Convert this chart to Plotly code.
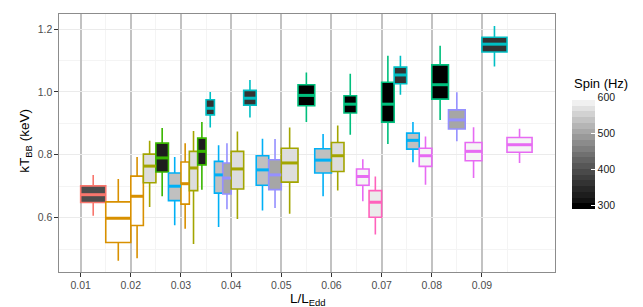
import plotly.graph_objects as go

# ---------------- data ----------------
source_names = ["S1", "S2", "S3", "S4", "S5", "S6", "S7", "S8", "S9", "S10"]
source_colors = ["#F8766D", "#D89000", "#A3A500", "#39B600", "#00BF7D",
                 "#00BFC4", "#00B0F6", "#9590FF", "#E76BF3", "#FF62BC"]
source_spin = [395, 610, 572, 326, 290, 358, 539, 508, 599, 588]

# each box: L/LEdd bin (left edge), source index, whisker-low, q1, median, q3, whisker-high
box_bin = [0.01, 0.01,
           0.02, 0.02, 0.02, 0.02,
           0.03, 0.03, 0.03, 0.03, 0.03, 0.03,
           0.04, 0.04, 0.04, 0.04,
           0.05, 0.05, 0.05,
           0.06, 0.06, 0.06, 0.06,
           0.07, 0.07, 0.07, 0.07,
           0.08, 0.08, 0.08,
           0.09, 0.09]
box_src = [0, 1,
           1, 2, 3, 6,
           1, 2, 3, 5, 6, 7,
           2, 5, 6, 7,
           2, 4, 6,
           2, 4, 8, 9,
           4, 5, 6, 8,
           4, 7, 8,
           5, 8]
box_lo = [0.606, 0.463, 0.471, 0.634, 0.668, 0.576, 0.565, 0.516, 0.689, 0.887,
          0.570, 0.627, 0.596, 0.919, 0.623, 0.631, 0.612, 0.904, 0.668, 0.686,
          0.864, 0.652, 0.546, 0.834, 0.991, 0.776, 0.705, 0.911, 0.843, 0.726,
          1.081, 0.774]
box_q1 = [0.648, 0.521, 0.575, 0.711, 0.745, 0.654, 0.643, 0.686, 0.768, 0.927,
          0.678, 0.675, 0.691, 0.958, 0.703, 0.689, 0.713, 0.956, 0.742, 0.747,
          0.933, 0.703, 0.601, 0.904, 1.026, 0.818, 0.763, 0.977, 0.882, 0.781,
          1.127, 0.808]
box_med = [0.673, 0.598, 0.668, 0.764, 0.790, 0.700, 0.708, 0.758, 0.811, 0.948,
           0.736, 0.726, 0.755, 0.980, 0.752, 0.736, 0.774, 0.989, 0.783, 0.797,
           0.961, 0.731, 0.649, 0.961, 1.054, 0.846, 0.797, 1.023, 0.911, 0.811,
           1.152, 0.832]
box_q3 = [0.701, 0.650, 0.732, 0.802, 0.837, 0.742, 0.777, 0.811, 0.853, 0.975,
          0.779, 0.774, 0.811, 1.005, 0.797, 0.784, 0.821, 1.023, 0.819, 0.839,
          0.988, 0.755, 0.686, 1.031, 1.079, 0.869, 0.821, 1.086, 0.943, 0.839,
          1.174, 0.855]
box_hi = [0.736, 0.723, 0.793, 0.845, 0.885, 0.793, 0.837, 0.876, 0.904, 1.000,
          0.830, 0.837, 0.874, 1.038, 0.851, 0.850, 0.887, 1.062, 0.866, 0.893,
          1.058, 0.786, 0.731, 1.115, 1.115, 0.904, 0.858, 1.147, 0.999, 0.888,
          1.210, 0.883]

bin_width = 0.01
x_ticks = [0.01, 0.02, 0.03, 0.04, 0.05, 0.06, 0.07, 0.08, 0.09]
x_tick_labels = ["0.01", "0.02", "0.03", "0.04", "0.05", "0.06", "0.07", "0.08", "0.09"]
y_ticks = [0.6, 0.8, 1.0, 1.2]
y_tick_labels = ["0.6", "0.8", "1.0", "1.2"]
spin_ticks = [300, 400, 500, 600]
spin_min, spin_max = 290, 610


# ---------------- helpers ----------------
def gray_from_t(t):
    """black->white gradient interpolated linearly in CIE L (like ggplot)."""
    t = max(0.0, min(1.0, t))
    L = 100.0 * t
    Y = ((L + 16) / 116) ** 3 if L > 8 else L / 903.3
    c = 12.92 * Y if Y <= 0.0031308 else 1.055 * Y ** (1 / 2.4) - 0.055
    v = int(round(max(0, min(1, c)) * 255))
    return f"rgb({v},{v},{v})"


def spin_color(s):
    return gray_from_t((s - spin_min) / (spin_max - spin_min))


nbin = 20
colorscale = []
for i in range(nbin):
    col = gray_from_t(i / (nbin - 1))
    colorscale.append([i / nbin, col])
    colorscale.append([(i + 1) / nbin, col])

fig = go.Figure()

# dodge positions within each bin
centers, widths = [], []
for k in range(len(box_bin)):
    members = [j for j in range(len(box_bin)) if box_bin[j] == box_bin[k]]
    n = len(members)
    i = members.index(k)
    w = bin_width / n
    centers.append(box_bin[k] + (i + 0.5) * w)
    widths.append(w)

for k in range(len(box_bin)):
    s = box_src[k]
    col = source_colors[s]
    fig.add_trace(go.Box(
        x=[centers[k]], q1=[box_q1[k]], median=[box_med[k]], q3=[box_q3[k]],
        lowerfence=[box_lo[k]], upperfence=[box_hi[k]],
        width=widths[k], fillcolor=spin_color(source_spin[s]),
        line=dict(color=col, width=1.6), whiskerwidth=0, boxpoints=False,
        name=source_names[s], showlegend=False, hoverinfo="skip"))
    fig.add_trace(go.Scatter(
        x=[centers[k] - widths[k] / 2, centers[k] + widths[k] / 2],
        y=[box_med[k], box_med[k]], mode="lines",
        line=dict(color=col, width=3), showlegend=False, hoverinfo="skip"))

# colour bar for spin
fig.add_trace(go.Scatter(
    x=centers, y=box_med, mode="markers",
    marker=dict(size=1, opacity=0, color=[source_spin[s] for s in box_src],
                colorscale=colorscale, cmin=spin_min, cmax=spin_max,
                showscale=True,
                colorbar=dict(
                    x=1.0349, xanchor="left", xpad=0,
                    y=0.244, yanchor="bottom", ypad=0,
                    len=115, lenmode="pixels", thickness=23,
                    outlinewidth=0, ticks="inside", ticklen=4,
                    tickcolor="white", tickwidth=1,
                    tickvals=spin_ticks, ticktext=[str(v) for v in spin_ticks],
                    tickfont=dict(size=10.5, color="#1A1A1A"))),
    showlegend=False, hoverinfo="skip"))

fig.update_layout(
    template="none",
    width=643, height=307,
    margin=dict(l=51, r=96, t=6, b=43, autoexpand=False),
    paper_bgcolor="white", plot_bgcolor="white",
    boxmode="overlay",
    font=dict(family="Liberation Sans, Arial, sans-serif"),
    showlegend=False,
    annotations=[
        dict(text="kT<sub>BB</sub> (keV)", xref="paper", yref="paper",
             x=-0.068, y=0.51, textangle=-90, showarrow=False,
             xanchor="center", yanchor="middle",
             font=dict(size=13.5, color="#000000")),
        dict(text="L/L<sub>Edd</sub>", xref="paper", yref="paper",
             x=0.502, y=-0.108, showarrow=False,
             xanchor="center", yanchor="middle",
             font=dict(size=13.5, color="#000000")),
        dict(text="Spin (Hz)", xref="paper", yref="paper",
             x=(564.0 - 51) / 496, y=(263.7 - 75) / 258, showarrow=False,
             xanchor="left", yanchor="middle",
             font=dict(size=13, color="#000000")),
    ],
)

fig.update_xaxes(
    range=[0.00568, 0.10457], tickvals=x_ticks, ticktext=x_tick_labels,
    automargin=False,
    showgrid=True, gridcolor="#C2C2C2", gridwidth=1.5,
    minor=dict(tickvals=[0.015, 0.025, 0.035, 0.045, 0.055, 0.065, 0.075, 0.085, 0.095],
               showgrid=True, gridcolor="#F4F4F4", gridwidth=0.6, ticks=""),
    ticks="outside", ticklen=3.5, tickcolor="#333333", tickwidth=1,
    tickfont=dict(size=10.5, color="#4D4D4D"),
    showline=True, mirror=True, linecolor="#8C8C8C", linewidth=1.2,
    zeroline=False)
fig.update_yaxes(
    range=[0.427, 1.248], tickvals=y_ticks, ticktext=y_tick_labels,
    automargin=False,
    showgrid=True, gridcolor="#EBEBEB", gridwidth=1,
    minor=dict(tickvals=[0.5, 0.7, 0.9, 1.1], showgrid=True,
               gridcolor="#F4F4F4", gridwidth=0.6, ticks=""),
    ticks="outside", ticklen=3.5, tickcolor="#333333", tickwidth=1,
    tickfont=dict(size=10.5, color="#4D4D4D"),
    showline=True, mirror=True, linecolor="#8C8C8C", linewidth=1.2,
    zeroline=False)

fig.write_html("out.html")
